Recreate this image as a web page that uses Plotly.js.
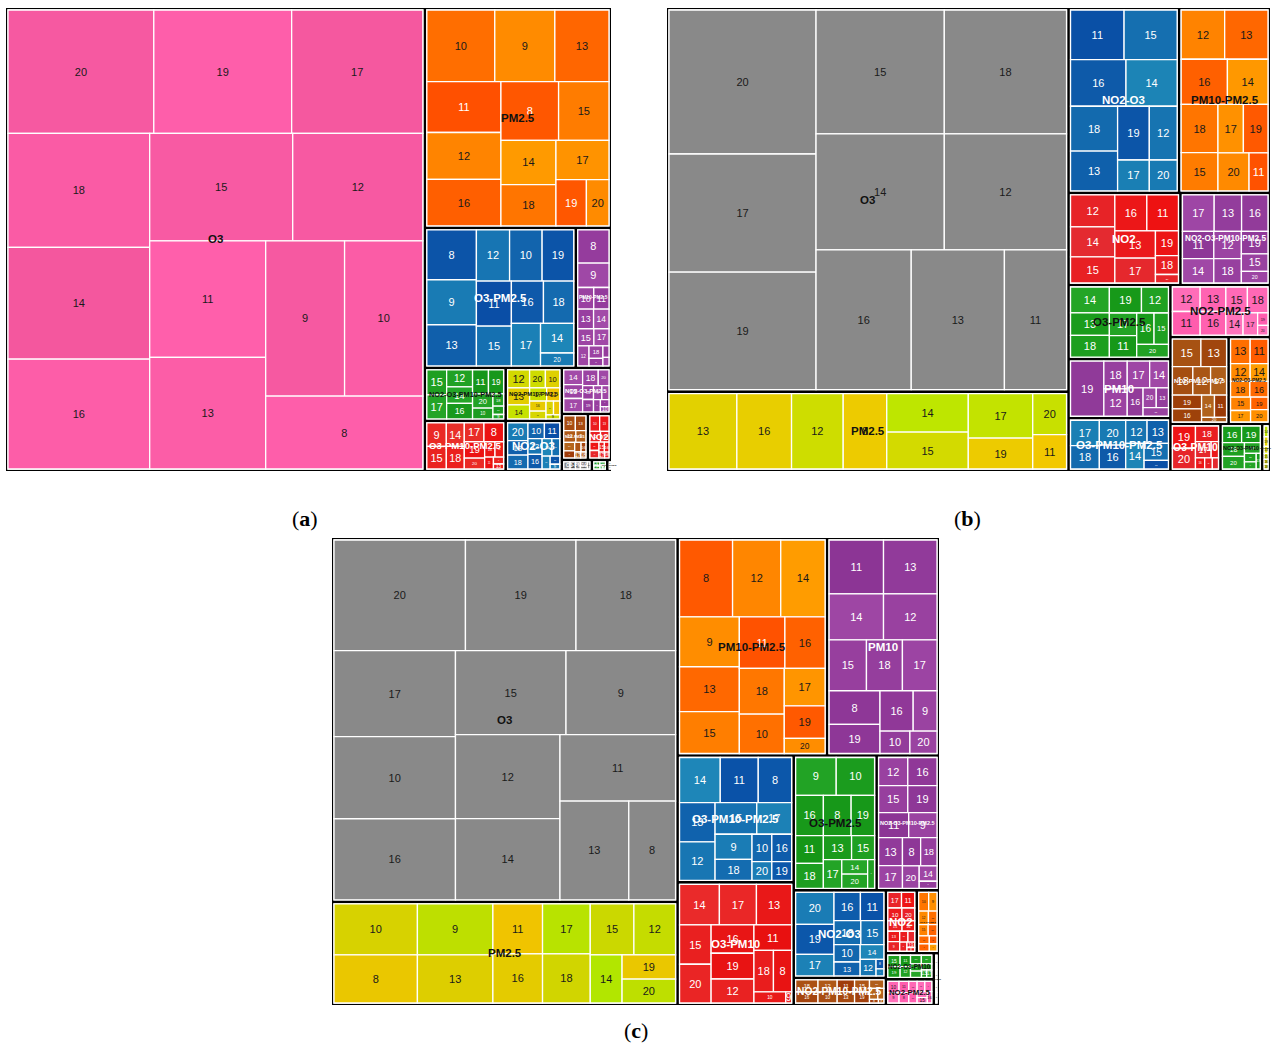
<!DOCTYPE html>
<html>
<head>
<meta charset="utf-8">
<script src="https://cdn.plot.ly/plotly-3.0.1.min.js"></script>
<style>
html,body{margin:0;padding:0;background:#fff;}
#chart{width:1272px;height:1048px;}
</style>
</head>
<body>
<div id="chart"></div>
<script>
// ===== DATA: [hour, value] per group =====
// Panel (a)
const a_O3 = [[20,18228],[19,17236],[17,16400],[18,16330],[14,16046],[16,15762],[15,15552],[12,14148],[11,13688],[13,13108],[9,12400],[10,12300],[8,11600]];
const a_PM25 = [[10,5037],[9,4453],[13,4015],[11,3900],[12,3600],[16,3560],[8,3500],[15,3060],[14,2520],[18,2352],[17,2160],[19,1457],[20,1081]];
const a_O3_PM25 = [[8,2600],[9,2346],[13,2142],[12,1785],[10,1750],[19,1700],[11,1660],[15,1460],[16,1430],[18,1350],[17,1300],[14,1030],[20,450]];
const a_PM10_PM25 = [[8,1200],[9,880],[10,400],[11,380],[13,360],[14,350],[15,320],[17,300],[12,260],[18,200],[16,120],[19,80],[20,60]];
const a_NO2_O3_PM10_PM25 = [[15,560],[17,540],[12,500],[14,480],[16,460],[11,430],[19,410],[20,330],[10,250],[18,150],[13,100],[9,54]];
const a_O3_PM10_PM25 = [[9,520],[15,500],[14,480],[18,460],[17,420],[8,420],[19,380],[20,250],[16,180],[10,150],[11,120],[12,80],[13,58]];
const a_NO2_PM10_PM25 = [[12,460],[13,430],[14,360],[20,330],[10,300],[17,260],[11,200],[16,190],[15,150],[18,120],[19,100],[9,64]];
const a_NO2_O3 = [[20,420],[13,340],[18,330],[10,300],[11,280],[12,260],[16,240],[14,200],[15,160],[17,120],[19,90],[9,53]];
const a_NO2_O3_PM25 = [[14,330],[15,310],[17,300],[18,290],[20,200],[16,180],[19,160],[9,140],[12,120],[13,100],[11,70],[10,54]];
const a_NO2_PM25 = [[10,220],[13,200],[12,180],[9,150],[14,120],[11,100],[15,80],[16,60],[17,46],[18,40]];
const a_NO2 = [[10,200],[13,190],[12,150],[9,120],[11,100],[14,90],[15,70],[16,60],[17,44],[18,34]];
const a_O3_PM10 = [[8,80],[9,70],[10,60],[11,50],[12,40],[13,30]];
const a_PM10 = [[8,50],[9,40],[10,35],[11,25],[12,20]];
const a_NO2_O3_PM10 = [[8,20],[9,20]];

// Panel (b)
const b_O3 = [[20,21315],[17,17493],[19,17400],[15,16000],[18,15250],[14,14976],[12,14274],[16,13395],[13,13113],[11,8742]];
const b_PM25 = [[13,5360],[16,4320],[12,4080],[8,3440],[14,3280],[15,3160],[17,3002],[19,2088],[20,1450],[11,1220]];
const b_NO2_O3 = [[11,2784],[15,2760],[16,2700],[14,2491],[18,2205],[13,1960],[19,1782],[12,1566],[17,1023],[20,899]];
const b_PM10_PM25 = [[12,2260],[13,2250],[16,2205],[14,1935],[18,1872],[15,1482],[17,1296],[19,1254],[20,1248],[11,760]];
const b_NO2 = [[12,1518],[14,1419],[15,1240],[16,1235],[11,1220],[13,1180],[17,1080],[19,608],[18,462],[20,210]];
const b_NO2_O3_PM10_PM25 = [[17,1250],[13,1080],[16,1040],[11,924],[14,825],[12,812],[18,725],[19,644],[15,504],[20,336]];
const b_O3_PM25 = [[14,1090],[13,945],[18,920],[19,905],[12,760],[17,670],[11,640],[16,590],[15,490],[20,440]];
const b_PM10 = [[19,2021],[18,713],[12,705],[17,660],[14,552],[16,495],[20,286],[13,264],[15,242]];
const b_O3_PM10_PM25 = [[17,810],[18,750],[20,729],[16,700],[12,550],[13,550],[14,522],[15,459],[11,232]];
const b_NO2_PM25 = [[12,756],[11,729],[13,700],[16,675],[15,621],[18,594],[14,425],[17,360],[19,144],[20,112]];
const b_NO2_PM10_PM25 = [[15,870],[13,783],[18,644],[12,560],[17,504],[19,448],[16,425],[14,320],[11,300],[20,128]];
const b_NO2_O3_PM25 = [[13,550],[11,500],[12,396],[14,360],[18,352],[16,330],[15,304],[17,264],[19,247],[20,247]];
const b_O3_PM10 = [[19,600],[20,560],[18,420],[17,300],[13,140],[16,120],[15,100],[14,80]];
const b_NO2_O3_PM10 = [[16,380],[19,370],[18,360],[20,330],[17,200],[15,120],[14,100],[13,75]];
const b_NO2_PM10 = [[14,90],[19,80],[13,60],[15,50],[16,40],[18,40]];

// Panel (c)
const c_O3 = [[20,14784],[19,12432],[18,11200],[17,10614],[10,10126],[16,10004],[15,9435],[9,9350],[12,8925],[14,8610],[11,7800],[13,6900],[8,4692]];
const c_PM25 = [[10,4452],[8,4200],[9,4028],[13,3800],[11,2600],[16,2550],[17,2500],[18,2450],[15,2332],[12,2226],[14,1600],[19,1350],[20,1340]];
const c_PM10_PM25 = [[8,4235],[12,3850],[14,3542],[9,3100],[13,2790],[15,2604],[11,2438],[16,2150],[18,2140],[10,1840],[17,1591],[19,1380],[20,644]];
const c_PM10 = [[11,3078],[13,3024],[14,2622],[12,2576],[15,2000],[18,1924],[17,1850],[8,1800],[19,1554],[16,1404],[9,1008],[10,704],[20,638]];
const c_O3_PM10_PM25 = [[14,1950],[11,1820],[8,1600],[13,1480],[12,1450],[15,1400],[17,1170],[9,989],[18,819],[10,578],[16,578],[20,391],[19,391]];
const c_O3_PM10 = [[14,1720],[17,1600],[13,1520],[15,1320],[20,1300],[16,1290],[19,1175],[12,1092],[11,1024],[18,858],[8,800],[10,378],[9,70]];
const c_O3_PM25 = [[9,1650],[10,1560],[16,1200],[8,1200],[19,1014],[11,830],[18,748],[13,729],[15,594],[17,572],[14,408],[20,396],[12,216]];
const c_NO2_O3_PM10_PM25 = [[12,896],[16,896],[15,864],[19,864],[11,825],[9,775],[13,728],[17,598],[8,560],[18,504],[20,414],[14,300],[10,140]];
const c_NO2_O3 = [[20,1330],[19,1254],[17,900],[16,812],[11,720],[18,700],[15,600],[10,493],[13,396],[14,377],[12,286],[8,80],[9,60]];
const c_NO2_PM10_PM25 = [[18,330],[16,300],[12,280],[10,260],[11,250],[13,240],[15,220],[19,200],[20,150],[14,110],[17,80],[8,40],[9,24]];
const c_NO2 = [[17,260],[11,250],[10,220],[20,200],[15,180],[16,160],[13,150],[9,140],[18,110],[14,90],[12,80],[19,50],[8,35]];
const c_NO2_O3_PM25 = [[10,240],[9,200],[12,170],[13,150],[15,140],[19,130],[16,110],[8,100],[11,80],[14,72]];
const c_NO2_O3_PM10 = [[15,180],[19,170],[11,150],[12,145],[10,120],[20,115],[18,100],[14,90],[16,80],[13,50],[17,48]];
const c_NO2_PM25 = [[10,160],[9,150],[11,140],[8,130],[18,120],[19,110],[12,100],[13,90],[14,80],[15,70],[16,65]];
const c_NO2_PM10 = [[10,80],[12,70],[11,60],[13,60]];

// group lists per panel (largest first)
const groupsA = [['O3',a_O3],['PM2.5',a_PM25],['O3-PM2.5',a_O3_PM25],['PM10-PM2.5',a_PM10_PM25],['NO2-O3-PM10-PM2.5',a_NO2_O3_PM10_PM25],['O3-PM10-PM2.5',a_O3_PM10_PM25],['NO2-PM10-PM2.5',a_NO2_PM10_PM25],['NO2-O3',a_NO2_O3],['NO2-O3-PM2.5',a_NO2_O3_PM25],['NO2-PM2.5',a_NO2_PM25],['NO2',a_NO2],['O3-PM10',a_O3_PM10],['PM10',a_PM10],['NO2-O3-PM10',a_NO2_O3_PM10]];
const groupsB = [['O3',b_O3],['PM2.5',b_PM25],['NO2-O3',b_NO2_O3],['PM10-PM2.5',b_PM10_PM25],['NO2',b_NO2],['NO2-O3-PM10-PM2.5',b_NO2_O3_PM10_PM25],['O3-PM2.5',b_O3_PM25],['PM10',b_PM10],['O3-PM10-PM2.5',b_O3_PM10_PM25],['NO2-PM2.5',b_NO2_PM25],['NO2-PM10-PM2.5',b_NO2_PM10_PM25],['NO2-O3-PM2.5',b_NO2_O3_PM25],['O3-PM10',b_O3_PM10],['NO2-O3-PM10',b_NO2_O3_PM10],['NO2-PM10',b_NO2_PM10]];
const groupsC = [['O3',c_O3],['PM2.5',c_PM25],['PM10-PM2.5',c_PM10_PM25],['PM10',c_PM10],['O3-PM10-PM2.5',c_O3_PM10_PM25],['O3-PM10',c_O3_PM10],['O3-PM2.5',c_O3_PM25],['NO2-O3-PM10-PM2.5',c_NO2_O3_PM10_PM25],['NO2-O3',c_NO2_O3],['NO2-PM10-PM2.5',c_NO2_PM10_PM25],['NO2',c_NO2],['NO2-O3-PM2.5',c_NO2_O3_PM25],['NO2-O3-PM10',c_NO2_O3_PM10],['NO2-PM2.5',c_NO2_PM25],['NO2-PM10',c_NO2_PM10]];

// ===== STYLES =====
const styleA = {
  'O3':['#FF5FAB','#F4579E','k'], 'PM2.5':['#FF5000','#FF9A00','k'], 'O3-PM2.5':['#0A4EA6','#1D86B8','w'],
  'PM10-PM2.5':['#943A9C','#A24BA8','w'], 'NO2-O3-PM10-PM2.5':['#16961A','#25A528','k'], 'O3-PM10-PM2.5':['#EC1010','#E9302A','w'],
  'NO2-PM10-PM2.5':['#F0C400','#C6E200','k'], 'NO2-O3':['#0A4EA6','#1D86B8','w'], 'NO2-O3-PM2.5':['#943A9C','#A24BA8','w'],
  'NO2-PM2.5':['#A03C0A','#B5661E','w'], 'NO2':['#EE1414','#E8262C','w'], 'O3-PM10':['#8A8A8A','#8A8A8A','w'],
  'PM10':['#16961A','#25A528','w'], 'NO2-O3-PM10':['#FF6A00','#FF6A00','k']
};
const styleB = {
  'O3':['#898989','#898989','k'], 'PM2.5':['#F2C800','#BEE600','k'], 'NO2-O3':['#0A50A6','#1C84B6','w'],
  'PM10-PM2.5':['#FF5200','#FF9800','k'], 'NO2':['#EE1212','#E42A30','w'], 'NO2-O3-PM10-PM2.5':['#8E3897','#A048A6','w'],
  'O3-PM2.5':['#169818','#24A526','k'], 'NO2-PM2.5':['#FF5CAD','#FF74BC','k'], 'PM10':['#8E3897','#A048A6','w'],
  'NO2-PM10-PM2.5':['#9A3A06','#B0621C','w'], 'NO2-O3-PM2.5':['#FF5C00','#FF9C00','k'], 'O3-PM10-PM2.5':['#0A50A6','#1C84B6','w'],
  'O3-PM10':['#EE1212','#E42A30','w'], 'NO2-O3-PM10':['#169818','#24A526','k'], 'NO2-PM10':['#EAD200','#C0E400','k']
};
const styleC = {
  'O3':['#898989','#898989','k'], 'PM2.5':['#F0C400','#B2E600','k'], 'PM10-PM2.5':['#FF5200','#FF9C00','k'],
  'PM10':['#8C3595','#9E46A4','w'], 'O3-PM10-PM2.5':['#0A52A8','#1E86B8','w'], 'O3-PM10':['#E81010','#EA2A2A','w'],
  'O3-PM2.5':['#159617','#25A628','k'], 'NO2-O3-PM10-PM2.5':['#8C3595','#9E46A4','w'], 'NO2-O3':['#0A52A8','#1E86B8','w'],
  'NO2-PM10-PM2.5':['#A03C0A','#B5661E','w'], 'NO2':['#EE1414','#E8262C','w'], 'NO2-O3-PM2.5':['#FF5C00','#FF9C00','k'],
  'NO2-O3-PM10':['#159617','#25A628','k'], 'NO2-PM2.5':['#FF5CAD','#FF74BC','k'], 'NO2-PM10':['#EAD200','#C0E400','k']
};
// layout helpers: blocks of groups that are tiled together
const blocksA = [];
const blocksB = [
  ['_L', ['O3','PM2.5']],
  ['_R', ['NO2-O3','PM10-PM2.5','NO2','NO2-O3-PM10-PM2.5','O3-PM2.5','PM10','O3-PM10-PM2.5','NO2-PM2.5','_R2','O3-PM10','NO2-O3-PM10','NO2-PM10']],
  ['_R2', ['NO2-PM10-PM2.5','NO2-O3-PM2.5']]
];
const blocksC = [['_S', ['NO2-O3','NO2-PM10-PM2.5']]];

const W = 1272, H = 1048;
const FONT = 'Liberation Sans, Arial, Helvetica, sans-serif';
const BORDER = 2;   // black frame width inside each group cell
const LEAF_RATIO = 1.14;

const panels = [
  {key:'a', groups:groupsA, style:styleA, ratio:1.618, blocks:blocksA, box:[6,611,8,471], lab:[305,518]},
  {key:'b', groups:groupsB, style:styleB, ratio:1.25,  blocks:blocksB, box:[667,1270,8,471], lab:[967,518]},
  {key:'c', groups:groupsC, style:styleC, ratio:1.4,   blocks:blocksC, box:[332,939,538,1005], lab:[636,1030]}
];

function hexRgb(h){ h=h.replace('#',''); return [parseInt(h.substr(0,2),16),parseInt(h.substr(2,2),16),parseInt(h.substr(4,2),16)]; }
function mixRgb(c1,c2,t){ const a=hexRgb(c1), b=hexRgb(c2); return a.map((v,i)=>Math.round(v+(b[i]-v)*t)); }
function sumRows(rows){ return rows.reduce((s,r)=>s+r[1],0); }

const groupInfo = {};

// level 1: group blocks of each panel (black cells; they become the group frames)
function topTrace(p){
  const ids=[p.key], labels=[p.key], parents=[''], values=[0], colors=['#000'];
  const parentOf = {}, added = {};
  const idOf = function(n){ return p.key+'/'+n; };
  p.blocks.forEach(function(bl){ bl[1].forEach(function(m){ parentOf[m] = bl[0]; }); });
  function ensure(n){
    if(added[n]) return;
    added[n] = true;
    const par = parentOf[n];
    if(par) ensure(par);
    ids.push(idOf(n)); labels.push(n); parents.push(par ? idOf(par) : p.key); values.push(0); colors.push('#000');
  }
  p.groups.forEach(function(g){
    const gid=idOf(g[0]), st=p.style[g[0]];
    const par = parentOf[g[0]];
    if(par) ensure(par);
    groupInfo[gid] = {panel:p, name:g[0], rows:g[1], st:st, color: st[2]==='w' ? '#ffffff' : '#111111'};
    ids.push(gid); labels.push(g[0]); parents.push(par ? idOf(par) : p.key); values.push(sumRows(g[1])); colors.push('#000');
  });
  const b=p.box;
  return {
    type:'treemap', ids:ids, labels:labels, parents:parents, values:values,
    textinfo:'none', branchvalues:'remainder', sort:false,
    domain:{x:[b[0]/W, b[1]/W], y:[1-b[3]/H, 1-b[2]/H]},
    tiling:{packing:'squarify', squarifyratio:p.ratio, pad:0},
    marker:{colors:colors, line:{color:'#000', width:0}, pad:{t:0,l:0,r:0,b:0}, depthfade:false},
    root:{color:'#000'}, leaf:{opacity:1}, pathbar:{visible:false}, hoverinfo:'none'
  };
}

// level 2: hours inside one group, placed in the group's cell
function groupTrace(info, rect){
  const gid = info.panel.key+'/'+info.name, st = info.st;
  const ids=[gid], labels=[''], parents=[''], values=[0], text=[''], colors=[st[0]], tcol=['#000'];
  info.rows.forEach(function(r){
    const hr=r[0], c=mixRgb(st[0], st[1], ((hr*7)%11)/10);
    const bright=(c[0]*299+c[1]*587+c[2]*114)/1000;
    ids.push(gid+'/'+hr); labels.push(String(hr)); parents.push(gid); values.push(r[1]); text.push(String(hr));
    colors.push('rgb('+c.join(',')+')'); tcol.push(bright>=128 ? '#1a1a1a' : '#ffffff');
  });
  const x0=rect.x0+BORDER, x1=Math.max(rect.x0+BORDER+1, rect.x1-BORDER);
  const y0=rect.y0+BORDER, y1=Math.max(rect.y0+BORDER+1, rect.y1-BORDER);
  return {
    type:'treemap', ids:ids, labels:labels, parents:parents, values:values, text:text,
    textinfo:'text', branchvalues:'remainder', sort:true,
    domain:{x:[x0/W, x1/W], y:[1-y1/H, 1-y0/H]},
    tiling:{packing:'squarify', squarifyratio:LEAF_RATIO, pad:0},
    marker:{colors:colors, line:{color:'#ffffff', width:1.3}, pad:{t:0,l:0,r:0,b:0}, depthfade:false},
    root:{color:st[0]}, leaf:{opacity:1}, pathbar:{visible:false},
    textposition:'middle center', textfont:{family:FONT, size:11, color:tcol},
    hoverinfo:'none'
  };
}

const panelAnns = panels.map(function(p){
  return {xref:'paper', yref:'paper', x:p.lab[0]/W, y:1-p.lab[1]/H, xanchor:'center', yanchor:'middle', showarrow:false,
    text:'(<b>'+p.key+'</b>)', font:{family:'Liberation Serif, DejaVu Serif, serif', size:22, color:'#000'}};
});

const layout = {width:W, height:H, margin:{l:0,r:0,t:0,b:0}, paper_bgcolor:'#fff', showlegend:false, annotations:panelAnns};

const gd = document.getElementById('chart');
Plotly.newPlot(gd, panels.map(topTrace), layout, {staticPlot:true, displayModeBar:false}).then(function(){
  const box = gd.getBoundingClientRect();
  const rects = [];
  gd.querySelectorAll('g.slice').forEach(function(g){
    const pt = g.__data__;
    if(!pt || !pt.data || !pt.data.data) return;
    const info = groupInfo[pt.data.data.id];
    if(!info) return;
    const path = g.querySelector('path.surface') || g.querySelector('path');
    if(!path) return;
    const r = path.getBoundingClientRect();
    rects.push({info:info, x0:r.left-box.left, x1:r.right-box.left, y0:r.top-box.top, y1:r.bottom-box.top});
  });
  const anns = panelAnns.slice();
  rects.forEach(function(R){
    const w=R.x1-R.x0-2*BORDER, h=R.y1-R.y0-2*BORDER;
    const size = Math.max(2.2, Math.min(11.5, (w-2)/(0.6*R.info.name.length), h*0.7));
    anns.push({xref:'paper', yref:'paper', x:(R.x0+R.x1)/2/W, y:1-(R.y0+R.y1)/2/H,
      xanchor:'center', yanchor:'middle', showarrow:false, text:'<b>'+R.info.name+'</b>',
      font:{family:FONT, size:size, color:R.info.color}});
  });
  return Plotly.addTraces(gd, rects.map(function(R){ return groupTrace(R.info, R); })).then(function(){
    return Plotly.relayout(gd, {annotations:anns});
  });
});
</script>
</body>
</html>
